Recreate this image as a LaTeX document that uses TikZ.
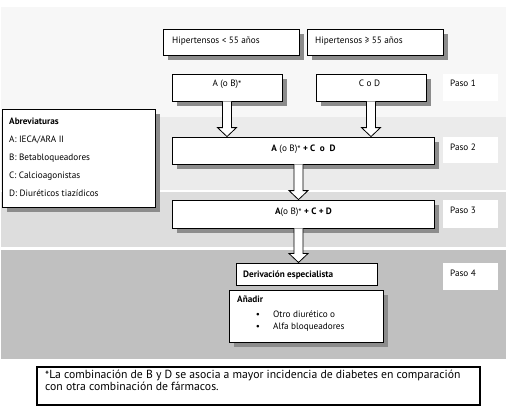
\documentclass[tikz,border=0pt]{standalone}
\usepackage{fontspec}
\setmainfont{PT Sans}
\usetikzlibrary{calc}
\definecolor{bandA}{RGB}{247,247,247}
\definecolor{bandB}{RGB}{235,235,235}
\definecolor{bandC}{RGB}{221,221,221}
\definecolor{bandD}{RGB}{192,192,192}
\definecolor{shadc}{RGB}{140,140,140}
\newcommand\blockarr[2]{\draw[barrow] let \p1=(#1), \p2=(#2) in
  (\x1-4.5pt,\y1) -- (\x1-4.5pt,\y2+9pt) -- (\x1-9.5pt,\y2+9pt) -- (\x1,\y2) --
  (\x1+9.5pt,\y2+9pt) -- (\x1+4.5pt,\y2+9pt) -- (\x1+4.5pt,\y1);}
% name, cx, cy, w, h : shadowed box
\newcommand\shadbox[5]{%
  \fill[shadc] ({#2+5-#4/2},{#3+5-#5/2}) rectangle ({#2+5+#4/2},{#3+5+#5/2});
  \node[box, minimum width=#4pt, minimum height=#5pt] (#1) at (#2,#3) {};}
\newcommand\myast{\raisebox{-1.3pt}{*}}
\begin{document}
\begin{tikzpicture}[x=1pt,y=-1pt,
  box/.style={draw, line width=0.8pt, fill=white, inner sep=0pt},
  paso/.style={fill=white, inner sep=0pt},
  barrow/.style={draw, fill=white, line width=0.8pt, line join=miter},
  txt/.style={font=\fontsize{9.2}{10}\selectfont, inner sep=0pt, text height=6pt, text depth=0pt},
  ftxt/.style={font=\fontsize{11.7}{12}\selectfont, inner sep=0pt, anchor=west, text height=7pt, text depth=0pt},
]
\useasboundingbox (0,0) rectangle (517,415);
% bands
\fill[bandA] (1,7) rectangle (506,116.5);
\fill[bandB] (1,116.5) rectangle (506,190);
\fill[bandC] (1,192) rectangle (506,247);
\fill[bandD] (1,250) rectangle (506,359);
% paso boxes
\node[paso, minimum width=55pt, minimum height=27pt] (p1) at (470.5,87.5) {};
\node[paso, minimum width=55pt, minimum height=26pt] (p2) at (470.5,150) {};
\node[paso, minimum width=55pt, minimum height=28pt] (p3) at (470.5,214) {};
\node[paso, minimum width=55pt, minimum height=27pt] (p4) at (470.5,276.5) {};
\node[txt, anchor=west] (p1t) at (450,83) {Paso 1};
\node[txt, anchor=west] (p2t) at (450,147) {Paso 2};
\node[txt, anchor=west] (p3t) at (450,210) {Paso 3};
\node[txt, anchor=west] (p4t) at (450,273) {Paso 4};
% boxes
\shadbox{h1}{231}{42}{136}{26}
\shadbox{h2}{375}{42}{136}{26}
\node[txt, anchor=west] (h1t) at (172,40) {Hipertensos < 55 años};
\node[txt, anchor=west] (h2t) at (315,40) {Hipertensos ≥ 55 años};
\shadbox{a1}{227}{87.5}{110}{27}
\shadbox{c1}{371}{87.5}{110}{27}
\node[txt] (a1t) at (227,83) {A (o B)\myast};
\node[txt] (c1t) at (369.5,83) {C o D};
\shadbox{a2}{303}{150.5}{262}{27}
\node[txt] (a2t) at (303.5,148) {\textbf{A} (o B)\myast{} \textbf{+ C~ o~ D}};
\shadbox{a3}{303}{214}{262}{28}
\node[txt] (a3t) at (303.5,211) {\textbf{A}(o B)\myast{} \textbf{+ C + D}};
\node[box, line width=1pt, minimum width=141pt, minimum height=22pt] (d4) at (306.5,274) {};
\node[txt, anchor=west] (d4t) at (243,274) {\textbf{Derivación especialista}};
\shadbox{ad}{306}{316}{154}{52}
\node[txt, anchor=west] (adt) at (237,299) {\textbf{Añadir}};
\node[txt] (b1) at (258,314) {•};
\node[txt] (b2) at (258,326) {•};
\node[txt, anchor=west] (b1t) at (273,314) {Otro diurético o};
\node[txt, anchor=west] (b2t) at (273,326) {Alfa bloqueadores};
% abbreviations
\shadbox{ab}{78.5}{158}{153}{98}
\node[txt, anchor=west] (ab0) at (9,121) {\textbf{Abreviaturas}};
\node[txt, anchor=west] (ab1) at (9,139) {A: IECA/ARA II};
\node[txt, anchor=west] (ab2) at (9,157) {B: Betabloqueadores};
\node[txt, anchor=west] (ab3) at (9,175) {C: Calcioagonistas};
\node[txt, anchor=west] (ab4) at (9,193) {D: Diuréticos tiazídicos};
% arrows
\blockarr{a1.south}{a2.north -| a1.south}
\blockarr{c1.south}{a2.north -| c1.south}
\blockarr{$(a2.south)+(-4.5,0)$}{$(a3.north)+(-4.5,0)$}
\blockarr{$(a3.south)+(-4.5,0)$}{d4.north -| {$(a3.south)+(-4.5,0)$}}
% footnote
\node[draw, line width=1.8pt, fill=white, minimum width=443pt, minimum height=38pt, inner sep=0pt] (fn) at (258.5,386) {};
\node[ftxt] (fn1) at (45,375) {\myast La combinación de B y D se asocia a mayor incidencia de diabetes en comparación};
\node[ftxt] (fn2) at (45,387) {con otra combinación de fármacos.};
\end{tikzpicture}
\end{document}
